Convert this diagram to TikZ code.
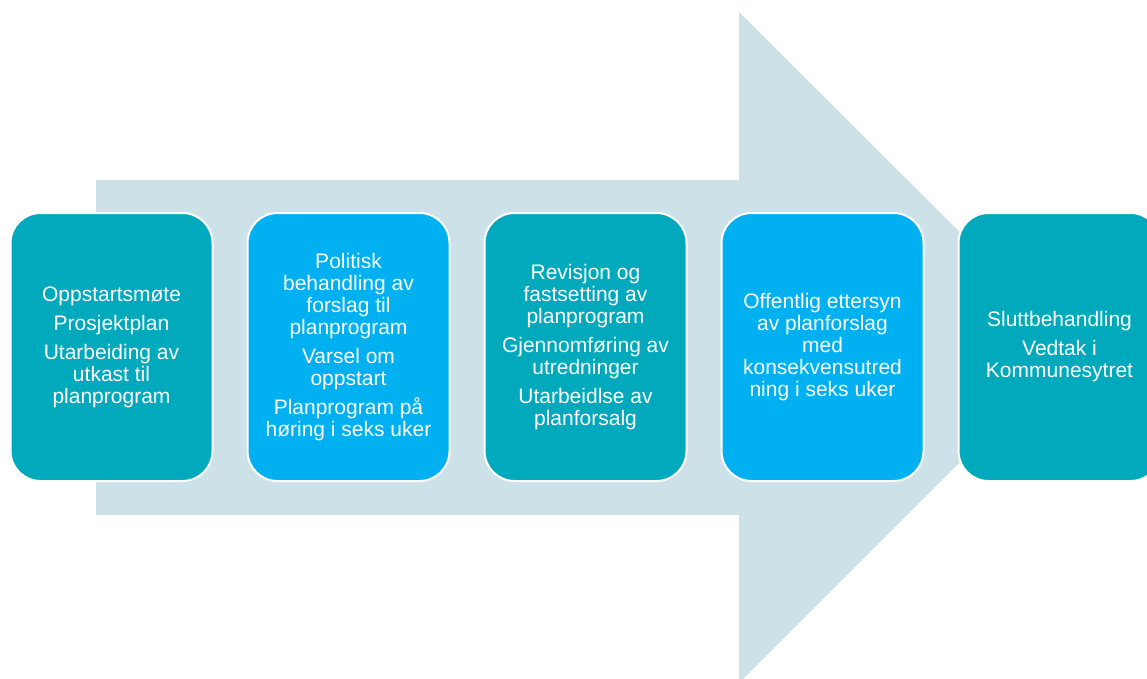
\documentclass[tikz,border=0pt]{standalone}
\usepackage{fontspec}
\setmainfont{Liberation Sans}

\definecolor{arrowpale}{RGB}{204,225,232}
\definecolor{stepteal}{RGB}{0,170,188}
\definecolor{stepblue}{RGB}{0,176,240}

\tikzset{
  stepbox/.style={rounded corners=30pt, draw=white, line width=2pt, text=white,
    minimum width=202pt, minimum height=268pt, inner sep=0pt, align=center,
    font=\fontsize{21}{22}\selectfont},
  teal/.style={stepbox, fill=stepteal},
  blue/.style={stepbox, fill=stepblue},
}

\begin{document}
\begin{tikzpicture}[x=1pt, y=-1pt]
  \useasboundingbox (0,0) rectangle (1147,679);
  \clip (0,0) rectangle (1147,679);

  % big background arrow
  \fill[arrowpale] (96,180) -- (739,180) -- (739,12) -- (1075,347)
    -- (739,683) -- (739,515) -- (96,515) -- cycle;

  % process steps
  \node[teal] (oppstart) at (111.5,347) {Oppstartsmøte\\[7pt]
    Prosjektplan\\[7pt]
    Utarbeiding av\\utkast til\\planprogram};
  \node[blue] (politisk) at (348.5,347) {Politisk\\behandling av\\forslag til\\planprogram\\[7pt]
    Varsel om\\oppstart\\[7pt]
    Planprogram på\\høring i seks uker};
  \node[teal] (revisjon) at (585.5,347) {Revisjon og\\fastsetting av\\planprogram\\[7pt]
    Gjennomføring av\\utredninger\\[7pt]
    Utarbeidlse av\\planforsalg};
  \node[blue] (ettersyn) at (822.5,347) {Offentlig ettersyn\\av planforslag\\med\\konsekvensutred\\ning i seks uker};
  \node[teal] (slutt) at (1059.5,347) {Sluttbehandling\\[7pt]
    Vedtak i\\Kommunesytret};
\end{tikzpicture}
\end{document}
